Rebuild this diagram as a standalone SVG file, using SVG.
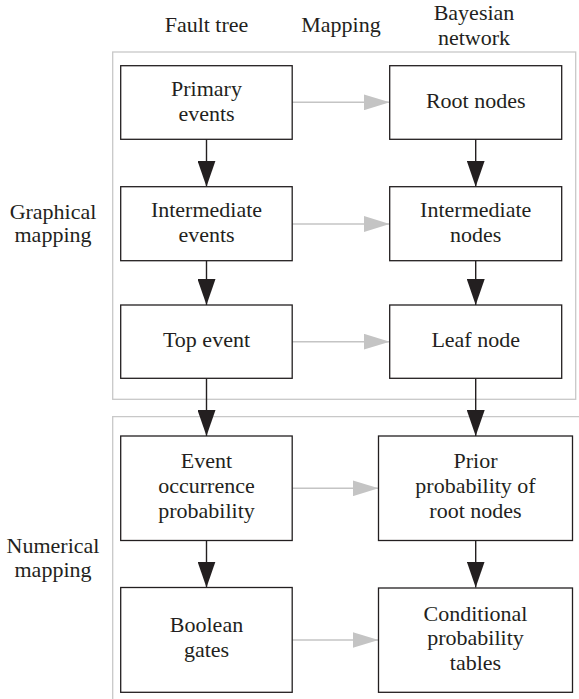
<svg xmlns="http://www.w3.org/2000/svg" width="579" height="699" viewBox="0 0 579 699">
<defs>
<style>
text{font-family:"Liberation Serif","Times New Roman",serif;font-size:22px;fill:#231f20;text-anchor:middle}
.box{fill:#fff;stroke:#231f20;stroke-width:1.3}
.frame{fill:none;stroke:#c8c8c8;stroke-width:1.3}
.blk{stroke:#231f20;stroke-width:1.4;fill:none}
.gry{stroke:#c4c4c4;stroke-width:1.4;fill:none}
</style>
<marker id="ab" markerUnits="userSpaceOnUse" markerWidth="26" markerHeight="18" refX="26" refY="9" orient="auto"><path d="M0,0 L26,9 L0,18 z" fill="#231f20"/></marker>
<marker id="ag" markerUnits="userSpaceOnUse" markerWidth="26" markerHeight="16" refX="26" refY="8" orient="auto"><path d="M0,0 L26,8 L0,16 z" fill="#c4c4c4"/></marker>
</defs>
<rect width="579" height="699" fill="#fff"/>
<g id="headers">
<text x="206.5" y="32">Fault tree</text>
<text x="341" y="32">Mapping</text>
<text x="474" y="20">Bayesian</text>
<text x="474" y="45">network</text>
</g>
<g id="frames">
<rect class="frame" x="112.7" y="52" width="463" height="347.3"/>
<path class="frame" d="M579,416.7 H112.7 V699"/>
</g>
<g id="side-labels">
<text x="53" y="219">Graphical</text>
<text x="53" y="242">mapping</text>
<text x="53" y="553">Numerical</text>
<text x="53" y="577">mapping</text>
</g>
<g id="connectors">
<line class="blk" x1="206.5" y1="139.3" x2="206.5" y2="186.7" marker-end="url(#ab)"/>
<line class="blk" x1="206.5" y1="260.7" x2="206.5" y2="305" marker-end="url(#ab)"/>
<line class="blk" x1="206.5" y1="378.3" x2="206.5" y2="436" marker-end="url(#ab)"/>
<line class="blk" x1="206.5" y1="540.5" x2="206.5" y2="587.5" marker-end="url(#ab)"/>
<line class="blk" x1="475.7" y1="139.3" x2="475.7" y2="186.7" marker-end="url(#ab)"/>
<line class="blk" x1="475.7" y1="260.7" x2="475.7" y2="305" marker-end="url(#ab)"/>
<line class="blk" x1="475.7" y1="378.3" x2="475.7" y2="436" marker-end="url(#ab)"/>
<line class="blk" x1="475.7" y1="540.5" x2="475.7" y2="587.5" marker-end="url(#ab)"/>
<line class="gry" x1="292.2" y1="102.3" x2="389.7" y2="102.3" marker-end="url(#ag)"/>
<line class="gry" x1="292.2" y1="224" x2="389.7" y2="224" marker-end="url(#ag)"/>
<line class="gry" x1="292.2" y1="341.7" x2="389.7" y2="341.7" marker-end="url(#ag)"/>
<line class="gry" x1="292.2" y1="488.3" x2="378.5" y2="488.3" marker-end="url(#ag)"/>
<line class="gry" x1="292.2" y1="640" x2="378.5" y2="640" marker-end="url(#ag)"/>
</g>
<g id="primary-events">
<rect class="box" x="120.7" y="65.7" width="171.5" height="73.6"/>
<text x="206.5" y="96">Primary</text>
<text x="206.5" y="121">events</text>
</g>
<g id="root-nodes">
<rect class="box" x="389.7" y="65.7" width="172" height="73.6"/>
<text x="475.7" y="108">Root nodes</text>
</g>
<g id="intermediate-events">
<rect class="box" x="120.7" y="186.7" width="171.5" height="74"/>
<text x="206.5" y="216.5">Intermediate</text>
<text x="206.5" y="242">events</text>
</g>
<g id="intermediate-nodes">
<rect class="box" x="389.7" y="186.7" width="172" height="74"/>
<text x="475.7" y="216.5">Intermediate</text>
<text x="475.7" y="242">nodes</text>
</g>
<g id="top-event">
<rect class="box" x="120.7" y="305" width="171.5" height="73.3"/>
<text x="206.5" y="347">Top event</text>
</g>
<g id="leaf-node">
<rect class="box" x="389.7" y="305" width="172" height="73.3"/>
<text x="475.7" y="347">Leaf node</text>
</g>
<g id="event-occurrence-probability">
<rect class="box" x="120.7" y="436" width="171.5" height="104.5"/>
<text x="206.5" y="467.5">Event</text>
<text x="206.5" y="493">occurrence</text>
<text x="206.5" y="518">probability</text>
</g>
<g id="prior-probability">
<rect class="box" x="378.5" y="436" width="194" height="104.5"/>
<text x="475.5" y="467.5">Prior</text>
<text x="475.5" y="493">probability of</text>
<text x="475.5" y="518">root nodes</text>
</g>
<g id="boolean-gates">
<rect class="box" x="120.7" y="587.5" width="171.5" height="104.8"/>
<text x="206.5" y="632">Boolean</text>
<text x="206.5" y="657">gates</text>
</g>
<g id="conditional-probability-tables">
<rect class="box" x="378.5" y="588" width="194" height="104.3"/>
<text x="475.5" y="620.5">Conditional</text>
<text x="475.5" y="645">probability</text>
<text x="475.5" y="670">tables</text>
</g>
</svg>
